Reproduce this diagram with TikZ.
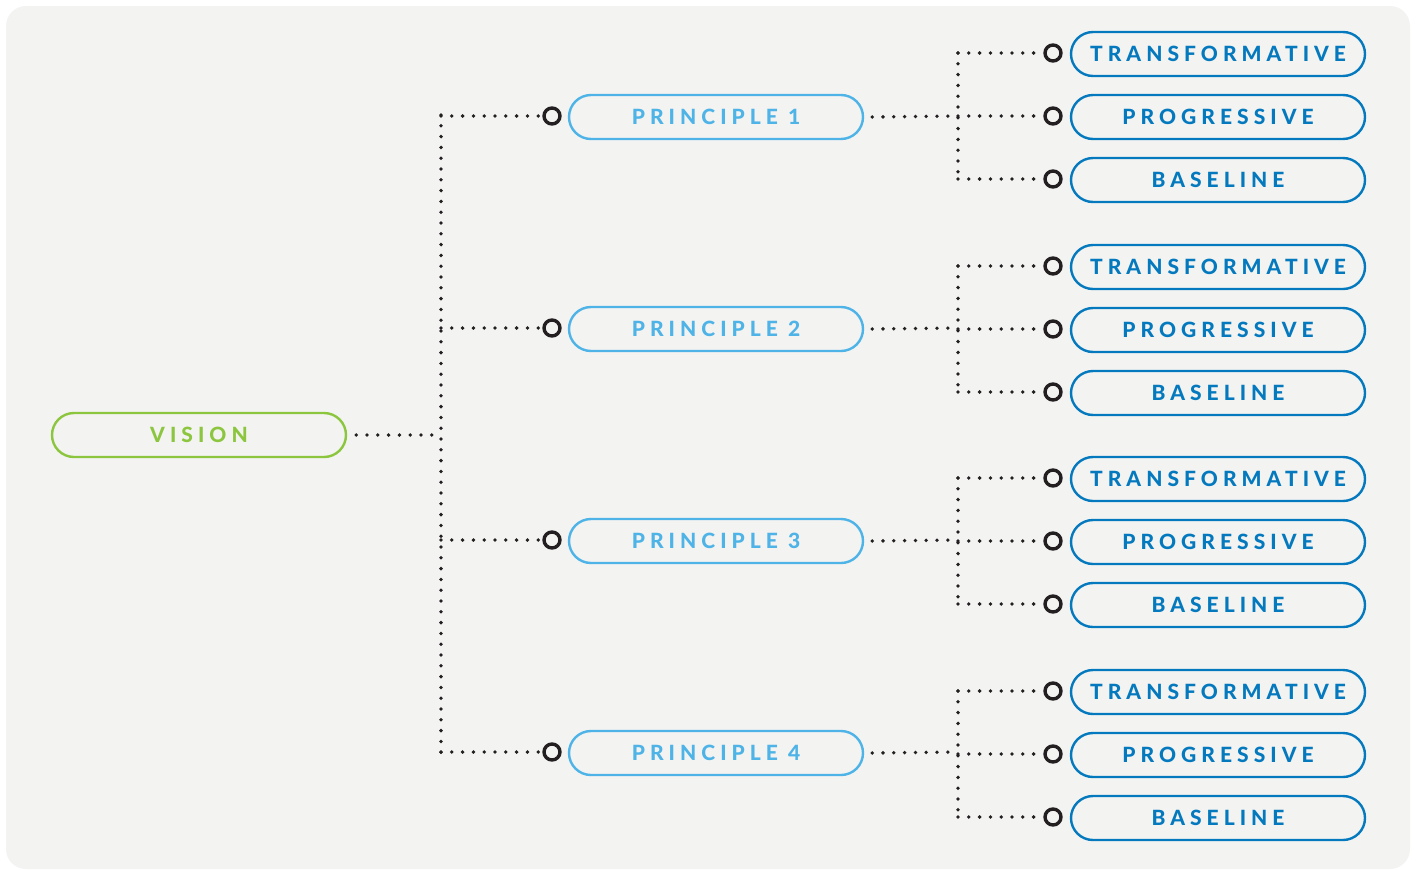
\documentclass[tikz,border=0pt]{standalone}
\usepackage{fontspec}
\newfontfamily\lbl{Lato Heavy}[LetterSpace=24]
\begin{document}
\begin{tikzpicture}[x=1pt,y=-1pt,
  box/.style={draw, line width=2.4pt, rounded corners=22pt, minimum width=294pt, minimum height=44pt, inner sep=0pt, text height=15pt, text depth=0pt, font=\lbl\fontsize{21}{25}\selectfont},
  visionbox/.style={box, draw=visgreen, text=visgreen},
  princbox/.style={box, draw=prblue, text=prblue},
  leafbox/.style={box, draw=lfblue, text=lfblue},
  ring/.style={circle, draw=ringc, line width=3.4pt, minimum size=16pt, inner sep=0pt, text height=0pt, text depth=0pt},
  dotline/.style={draw=ringc, line width=3.8pt, line cap=round, dash pattern=on 0pt off 10.8pt}]
\definecolor{bgc}{HTML}{F3F3F2}
\definecolor{visgreen}{HTML}{8CC63F}
\definecolor{prblue}{HTML}{4EB3E6}
\definecolor{lfblue}{HTML}{0479BE}
\definecolor{ringc}{HTML}{231F20}
\useasboundingbox (0,0) rectangle (1416,873);
\fill[bgc, rounded corners=20pt] (6,6) rectangle (1410,869);

\node[visionbox] (vision) at (199,435) {VISION};
\coordinate (vj) at (441,435);
\coordinate (ttop) at (441,115);
\coordinate (tbot) at (441,754);
\draw[dotline] ([xshift=9pt]vision.east) -- (vj);
\draw[dotline] (ttop) -- (tbot);

\foreach \k/\py/\ly in {1/117/54, 2/329/267, 3/541/479, 4/753/692} {
  \node[princbox] (p\k) at (716,\py) {PRINCIPLE \k};
  \node[ring] (pc\k) at (552,\py-1) {};
  \coordinate (pj\k) at (441,\py-1);
  \draw[dotline] (pj\k) -- (pc\k.west);
  \node[leafbox] (t\k) at (1218,\ly) {TRANSFORMATIVE};
  \node[leafbox] (g\k) at (1218,\ly+63) {PROGRESSIVE};
  \node[leafbox] (b\k) at (1218,\ly+126) {BASELINE};
  \node[ring] (tc\k) at (1053,\ly-1) {};
  \node[ring] (gc\k) at (1053,\ly+62) {};
  \node[ring] (bc\k) at (1053,\ly+125) {};
  \coordinate (sj\k) at (958,\py-1);
  \coordinate (st\k) at (958,\ly-1);
  \coordinate (sb\k) at (958,\ly+125);
  \draw[dotline] ([xshift=8pt]p\k.east) -- (sj\k);
  \draw[dotline] (st\k) -- (sb\k);
  \draw[dotline] (st\k) -- (tc\k.west);
  \draw[dotline] (st\k |- gc\k) -- (gc\k.west);
  \draw[dotline] (sb\k) -- (bc\k.west);
}
\end{tikzpicture}
\end{document}
